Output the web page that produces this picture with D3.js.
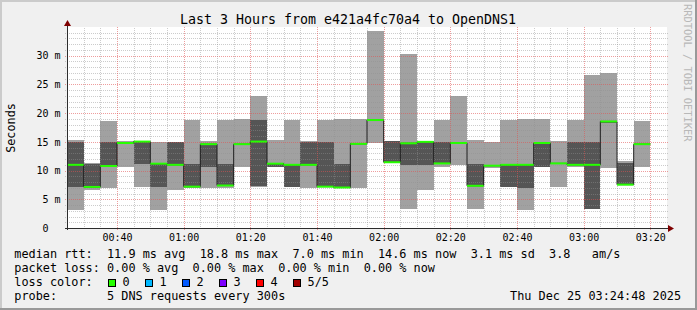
<!DOCTYPE html>
<html><head><meta charset="utf-8">
<script src="https://cdn.jsdelivr.net/npm/d3@7"></script>
<style>
html,body{margin:0;padding:0;background:#f0f0f0;}
svg{display:block;}
text{font-family:"DejaVu Sans Mono",monospace;white-space:pre;}
</style></head><body>
<svg id="c" width="697" height="310"></svg>
<script>
// ---- data ----
const slots = ["00:25","00:30","00:35","00:40","00:45","00:50","00:55","01:00","01:05","01:10",
  "01:15","01:20","01:25","01:30","01:35","01:40","01:45","01:50","01:55","02:00",
  "02:05","02:10","02:15","02:20","02:25","02:30","02:35","02:40","02:45","02:50",
  "02:55","03:00","03:05","03:10","03:15"];
const pingMin  = [3.2,6.65,7.0,10.65,7.2,3.2,6.7,7.0,7.0,7.0, 10.65,7.2,10.65,7.15,7.0,7.1,6.95,7.0,14.8,11.35,
  3.35,6.65,10.65,11.0,3.35,10.5,7.15,3.2,10.65,7.2, 10.7,3.3,10.5,7.45,10.65];
const pingLow  = [7.2,7.0,10.7,14.7,11.2,7.2,10.9,7.1,10.65,7.3, 14.5,7.3,10.7,7.2,10.9,7.15,7.0,14.55,18.7,11.4,
  11.0,11.0,11.2,14.7,7.3,10.75,7.2,7.0,10.7,11.15, 10.95,3.35,18.3,7.5,14.5];
const median   = [11.0,7.15,10.8,14.8,15.05,11.2,11.0,7.2,14.6,7.4, 14.6,15.05,11.2,11.0,11.0,7.2,7.05,14.65,18.8,11.45,
  14.75,15.0,11.25,14.8,7.35,10.85,11.0,11.0,14.8,11.25, 11.0,11.0,18.55,7.55,14.6];
const pingHigh = [14.9,11.2,14.9,14.9,15.1,11.3,14.9,11.2,14.65,11.2, 14.7,18.8,11.25,11.1,14.9,15.05,11.2,14.75,18.9,15.1,
  14.85,15.05,15.05,14.9,11.2,10.95,11.05,11.05,14.85,11.35, 14.9,15.05,18.6,11.4,14.7];
const pingMax  = [15.35,11.25,18.65,15.1,15.15,15.0,15.0,18.8,15.2,18.8, 19.0,22.9,15.35,18.8,15.2,18.8,19.0,19.0,34.3,15.2,
  30.25,15.2,18.8,22.9,15.35,15.0,18.8,19.0,19.0,15.2, 18.8,26.65,27.0,11.7,18.65];
const yTicks = [0,5,10,15,20,25,30];
const yTickLabels = ["0  ","5 m","10 m","15 m","20 m","25 m","30 m"];
const xTickLabels = ["00:40","01:00","01:20","01:40","02:00","02:20","02:40","03:00","03:20"];
const lossLabels = ["0","1","2","3","4","5/5"];
const lossColors = ["#26ff00","#00b8ff","#0059ff","#7e00ff","#ff0000","#a10000"];
const title = "Last 3 Hours from e421a4fc70a4 to OpenDNS1";
const legendLines = [
  "median rtt:  11.9 ms avg  18.8 ms max  7.0 ms min  14.6 ms now  3.1 ms sd  3.8   am/s",
  "packet loss: 0.00 % avg  0.00 % max  0.00 % min  0.00 % now",
  "loss color:",
  "probe:       5 DNS requests every 300s"
];
const stamp = "Thu Dec 25 03:24:48 2025";

// ---- helpers ----
const parse = s => { const [h,m] = s.split(":").map(Number); return new Date(2025,11,25,h,m); };
const step = 5*60*1000;
const rows = slots.map((s,i)=>({t:parse(s), lo:pingMin[i], q1:pingLow[i], med:median[i], q3:pingHigh[i], hi:pingMax[i]}));

const svg = d3.select("#c");
const W=697,H=310;
const X0=67, X1=667, Y0=228, Y1=27;

// background + 3D frame
svg.append("rect").attr("width",W).attr("height",H).attr("fill","#f0f0f0");
svg.append("path").attr("d",`M0,0H${W}V2H2V${H}H0Z`).attr("fill","#cbcbcb");
svg.append("path").attr("d",`M${W},0V${H}H0V${H-2}H${W-2}V0Z`).attr("fill","#999999");

const x = d3.scaleTime().domain([parse("00:25"), parse("03:25")]).range([X0,X1]);
const y = d3.scaleLinear().domain([0,35]).range([Y0,Y1]);

// canvas
svg.append("rect").attr("x",X0).attr("y",Y1).attr("width",X1-X0).attr("height",Y0-Y1).attr("fill","#ffffff");

const g = svg.append("g");
g.selectAll("rect.outer").data(rows).join("rect").attr("class","outer")
  .attr("x",d=>x(d.t)).attr("width",d=>x(new Date(+d.t+step))-x(d.t))
  .attr("y",d=>y(d.hi)).attr("height",d=>y(d.lo)-y(d.hi))
  .attr("fill","#a1a1a1").attr("shape-rendering","crispEdges");
g.selectAll("rect.inner").data(rows).join("rect").attr("class","inner")
  .attr("x",d=>x(d.t)).attr("width",d=>x(new Date(+d.t+step))-x(d.t))
  .attr("y",d=>y(d.q3)).attr("height",d=>y(d.q1)-y(d.q3))
  .attr("fill","#555555").attr("shape-rendering","crispEdges");

// grid
const grid = svg.append("g");
const minorY = d3.range(1,35).filter(v=>v%5!==0);
const majorY = yTicks.filter(v=>v>0);
grid.selectAll("line.my").data(minorY).join("line")
  .attr("x1",X0-2).attr("x2",X1+2).attr("y1",d=>Math.round(y(d))+0.5).attr("y2",d=>Math.round(y(d))+0.5)
  .attr("stroke","#8f8f8f").attr("stroke-opacity",0.46).attr("stroke-dasharray","1,1");
grid.selectAll("line.My").data(majorY).join("line")
  .attr("x1",X0-2).attr("x2",X1+2).attr("y1",d=>Math.round(y(d))+0.5).attr("y2",d=>Math.round(y(d))+0.5)
  .attr("stroke","#e05050").attr("stroke-opacity",0.56).attr("stroke-dasharray","1,1");
const minorX = d3.timeMinute.every(5).range(parse("00:30"), parse("03:25")).filter(d=>d.getMinutes()%20!==0);
const majorX = xTickLabels.map(parse);
grid.selectAll("line.mx").data(minorX).join("line")
  .attr("x1",d=>Math.round(x(d))+0.5).attr("x2",d=>Math.round(x(d))+0.5).attr("y1",Y0+1).attr("y2",Y1)
  .attr("stroke","#8f8f8f").attr("stroke-opacity",0.46).attr("stroke-dasharray","1,1");
grid.selectAll("line.Mx").data(majorX).join("line")
  .attr("x1",d=>Math.round(x(d))+0.5).attr("x2",d=>Math.round(x(d))+0.5).attr("y1",Y0+2).attr("y2",Y1)
  .attr("stroke","#e05050").attr("stroke-opacity",0.56).attr("stroke-dasharray","1,1");

// median step line (black) + green segments
const pts = [];
rows.forEach(d=>{ pts.push([x(d.t), y(d.med)]); pts.push([x(new Date(+d.t+step)), y(d.med)]); });
svg.append("path").attr("d",d3.line()(pts)).attr("fill","none").attr("stroke","#202020").attr("stroke-width",1);
svg.selectAll("line.med").data(rows).join("line").attr("class","med")
  .attr("x1",d=>x(d.t)).attr("x2",d=>x(new Date(+d.t+step)))
  .attr("y1",d=>y(d.med)).attr("y2",d=>y(d.med))
  .attr("stroke",lossColors[0]).attr("stroke-width",2);

// axes
const ya = svg.append("g").attr("transform",`translate(${X0},0)`)
  .call(d3.axisLeft(y).tickValues(yTicks).tickFormat((d,i)=>yTickLabels[i]).tickSize(0).tickPadding(6.5));
ya.select(".domain").remove();
ya.selectAll("text").attr("font-size","10px").attr("font-family","DejaVu Sans Mono").attr("fill","#000");
const xa = svg.append("g").attr("transform",`translate(0,${Y0})`)
  .call(d3.axisBottom(x).tickValues(majorX).tickFormat((d,i)=>xTickLabels[i]).tickSize(0).tickPadding(5.5));
xa.select(".domain").remove();
xa.selectAll("text").attr("font-size","10px").attr("font-family","DejaVu Sans Mono").attr("fill","#000");

// axis lines and arrows
svg.append("line").attr("x1",X0+0.5).attr("x2",X0+0.5).attr("y1",Y0+2).attr("y2",Y1-1).attr("stroke","#2c2c2c");
svg.append("line").attr("x1",X0-2).attr("x2",X1+1).attr("y1",Y0+0.5).attr("y2",Y0+0.5).attr("stroke","#2c2c2c");
svg.append("path").attr("d",`M${X0-3},${Y1-1}L${X0+4},${Y1-1}L${X0+0.5},${Y1-7}Z`).attr("fill","#7f0000");
svg.append("path").attr("d",`M${X1+1},${Y0-3}L${X1+1},${Y0+4}L${X1+7},${Y0+0.5}Z`).attr("fill","#7f0000");

// title
svg.append("text").attr("x",348).attr("y",24).attr("text-anchor","middle").attr("font-size","13.3px").text(title);
// y label
svg.append("text").attr("transform","translate(15,128) rotate(-90)").attr("text-anchor","middle").attr("font-size","11.8px").text("Seconds");
// watermark
svg.append("text").attr("transform","translate(684,4) rotate(90)").attr("font-size","10.4px").attr("fill","#b8b8b8").text("RRDTOOL / TOBI OETIKER");

// legend
const lx = 14.3;
svg.selectAll("text.leg").data(legendLines).join("text").attr("class","leg")
  .attr("x",lx).attr("y",(d,i)=>257.5+14*i).attr("font-size","11.85px").text(d=>d);
const lg = svg.selectAll("g.loss").data(lossLabels).join("g").attr("class","loss")
  .attr("transform",(d,i)=>`translate(${108.5+37*i},279.5)`);
lg.append("rect").attr("width",7).attr("height",7).attr("fill",(d,i)=>lossColors[i]).attr("stroke","#000").attr("stroke-width",1);
lg.append("text").attr("x",14).attr("y",6.5).attr("font-size","11.85px").text(d=>d);
svg.append("text").attr("x",510).attr("y",299.5).attr("font-size","11.85px").text(stamp);
</script>
</body></html>
